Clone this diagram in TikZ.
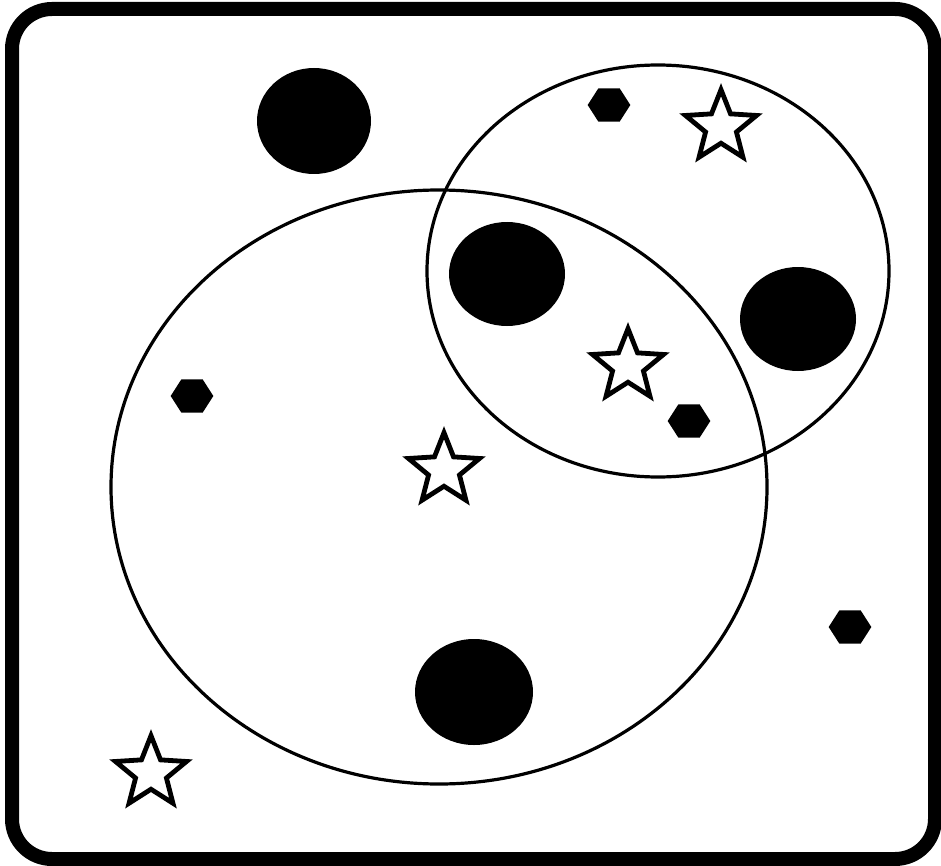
\documentclass[tikz,border=0pt]{standalone}
\usetikzlibrary{shapes.geometric}
\begin{document}
\begin{tikzpicture}[x=0.75pt,y=-0.75pt,
  frame/.style={line width=10.5pt, rounded corners=30pt},
  setring/.style={line width=2.4pt},
  disk/.style={fill=black},
  hexdot/.style={regular polygon, regular polygon sides=6, fill=black, inner sep=0pt, minimum size=32pt, yscale=0.9},
  starmark/.style={star, star points=5, star point ratio=2.3, draw=black, line width=3.6pt, fill=white, inner sep=0pt, minimum size=56pt}
]
\useasboundingbox (0,0) rectangle (941,866);
\draw[frame] (12,9) rectangle (935,859);
% sets
\draw[setring] (439,487) ellipse [x radius=328, y radius=297];
\draw[setring] (658,271) ellipse [x radius=231, y radius=206];
% disks
\fill[disk] (314,121) ellipse [x radius=57, y radius=53];
\fill[disk] (507,274) ellipse [x radius=58, y radius=52];
\fill[disk] (798,319) ellipse [x radius=58, y radius=52];
\fill[disk] (474,692) ellipse [x radius=59, y radius=53];
% hexagons
\node[hexdot] (h1) at (609,105) {};
\node[hexdot] (h2) at (192,396) {};
\node[hexdot] (h3) at (689,421) {};
\node[hexdot] (h4) at (850,627) {};
% stars
\node[starmark] (s1) at (721,127) {};
\node[starmark] (s2) at (628,366) {};
\node[starmark] (s3) at (444,470) {};
\node[starmark] (s4) at (151,773) {};
\end{tikzpicture}
\end{document}
